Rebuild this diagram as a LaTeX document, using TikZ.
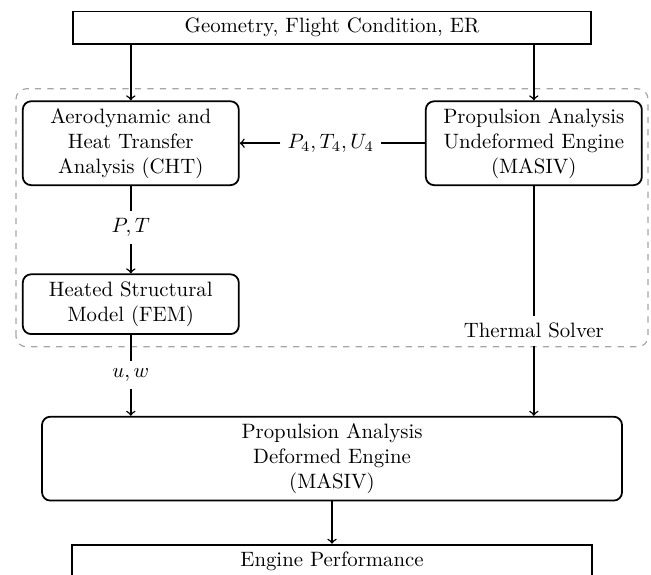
\documentclass[tikz,border=0pt]{standalone}
\usepackage{tikz}

\begin{document}
\begin{tikzpicture}[
  blockbox/.style={draw, line width=0.3mm, rounded corners=4pt, align=center, minimum width=3.65cm, minimum height=1.35cm},
  flatbox/.style={draw, line width=0.3mm, align=center, minimum height=0.51cm},
  flow/.style={line width=0.25mm}
]
\useasboundingbox (0,0) rectangle (11.0,9.70);
\draw[dashed, gray!70, line width=0.2mm, rounded corners=5pt] (0.27,3.84) rectangle (10.95,8.20);
\node[flatbox, minimum width=8.75cm] (geo) at (5.61, 9.23) {Geometry, Flight Condition, ER};
\node[blockbox] (cht) at (2.21, 7.28) {Aerodynamic and\\ Heat Transfer\\ Analysis (CHT)};
\node[blockbox] (prop) at (9.02, 7.28) {Propulsion Analysis\\ Undeformed Engine\\ (MASIV)};
\node[blockbox, minimum height=1.01cm] (fem) at (2.21, 4.56) {Heated Structural\\ Model (FEM)};
\node[blockbox, minimum width=9.80cm, minimum height=1.37cm] (def) at (5.61, 1.95) {Propulsion Analysis\\ Deformed Engine\\ (MASIV)};
\node[flatbox, minimum width=8.79cm] (perf) at (5.61, 0.22) {Engine Performance};
\node (pt) at (2.21, 5.85) {$P,T$};
\node (uw) at (2.21, 3.36) {$u,w$};
\node (ptu) at (5.59, 7.28) {$P_4,T_4,U_4$};
\node (therm) at (9.02, 4.11) {Thermal Solver};
\draw[flow, ->] (geo.south -| cht.north) -- (cht.north);
\draw[flow, ->] (geo.south -| prop.north) -- (prop.north);
\draw[flow] (cht) -- (pt);
\draw[flow, ->] (pt) -- (fem);
\draw[flow] (prop) -- (ptu);
\draw[flow, ->] (ptu) -- (cht);
\draw[flow] (fem) -- (uw);
\draw[flow, ->] (uw) -- (def.north -| uw);
\draw[flow] (prop) -- (therm);
\draw[flow, ->] (therm) -- (def.north -| therm);
\draw[flow, ->] (def) -- (perf);
\end{tikzpicture}
\end{document}
